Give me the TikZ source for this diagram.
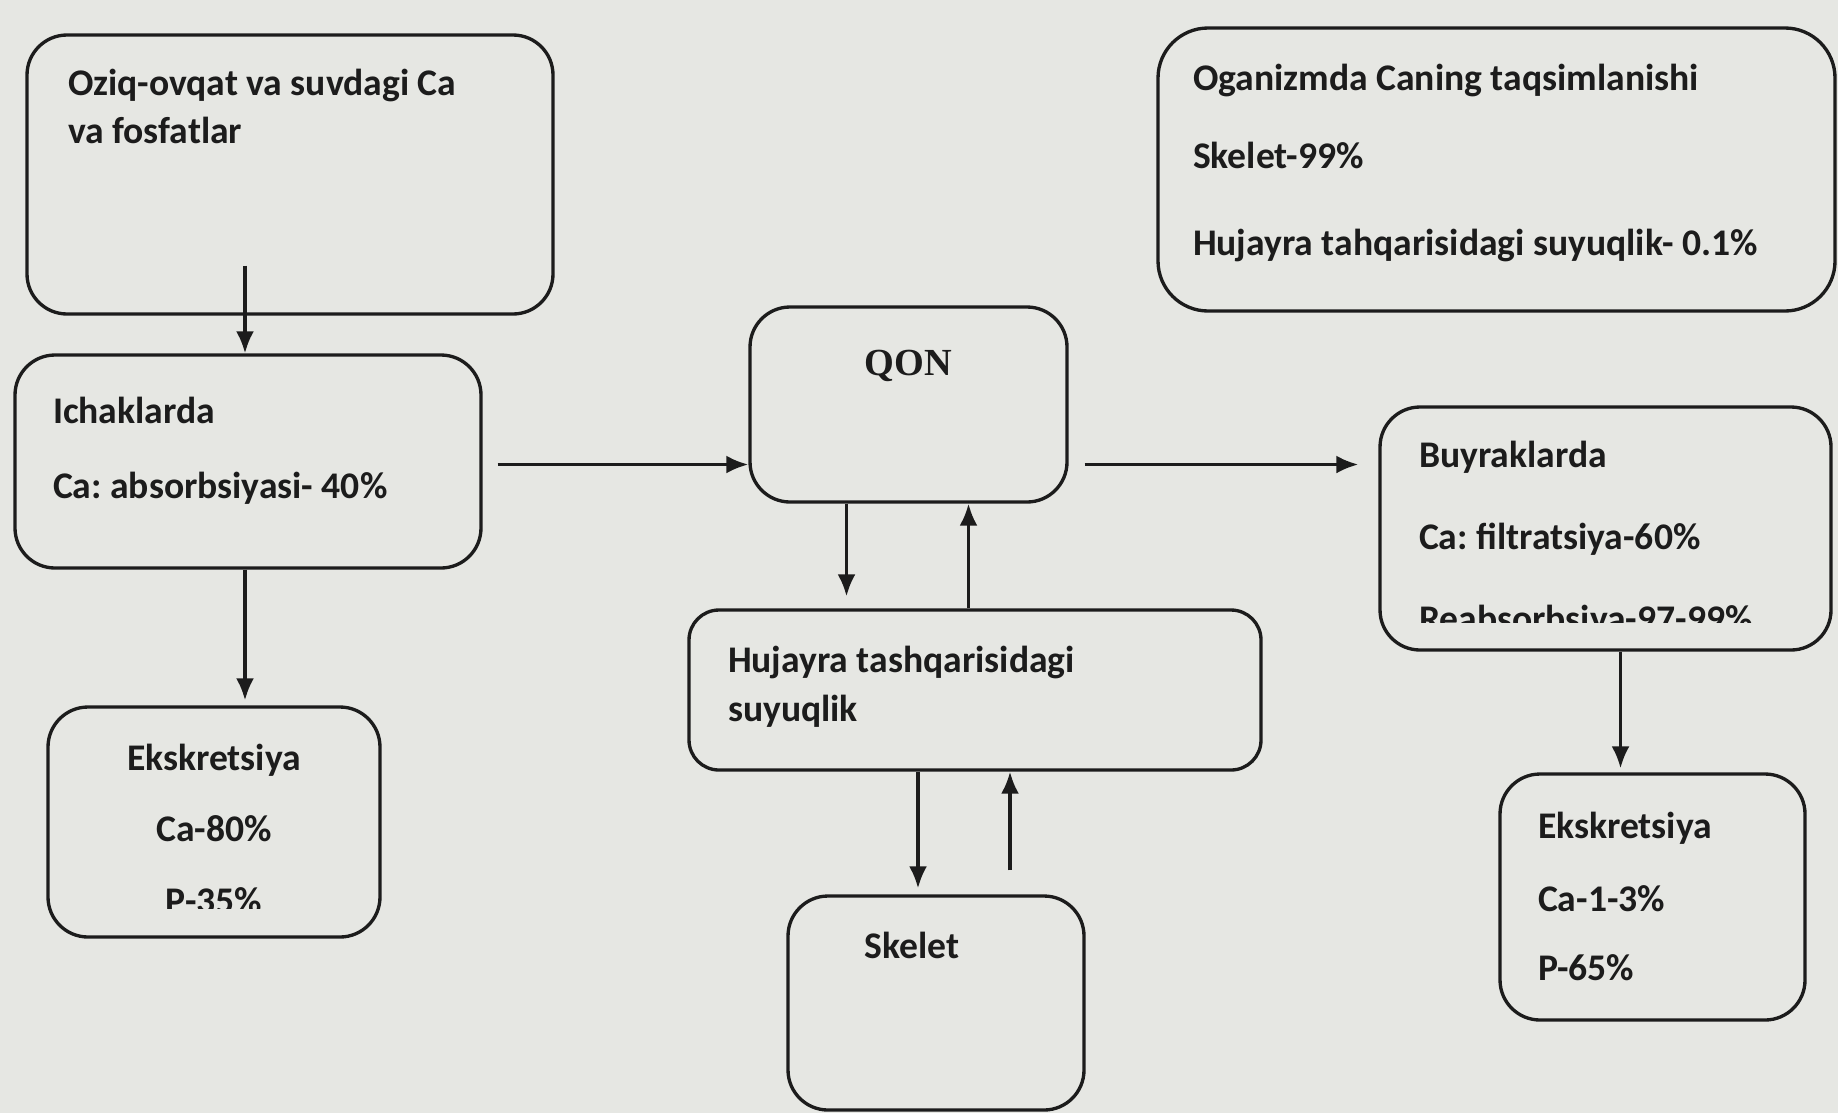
\documentclass[tikz,border=0pt]{standalone}
\usepackage{fontspec}
\setmainfont{Carlito}
\newfontfamily\qonfont{Liberation Serif}
\usepackage{tikz}
\usepackage{xcolor}
\usetikzlibrary{positioning,arrows.meta}

\definecolor{paper}{RGB}{230,231,227}
\definecolor{ink}{RGB}{28,28,28}
\frenchspacing

\begin{document}
\begin{tikzpicture}
[
x=0.1mm, y=-0.1mm,
box-a/.style={draw=ink, line width=0.95pt, rounded corners=4mm, inner sep=0pt},
text-a/.style={ink, font=\bfseries\fontsize{10.7}{13}\selectfont, inner sep=0pt},
text-b/.style={ink, font=\qonfont\bfseries\fontsize{10.9}{13}\selectfont, inner sep=0pt},
arrow-a/.style={draw=ink, line width=0.95pt, -{Latex[length=2.2mm,width=1.8mm]}}
]
\fill[paper] (0,0) rectangle (1838,1113);
\useasboundingbox (0,0) rectangle (1838,1113);

% boxes
\node (food)    [box-a, minimum width=52.6mm, minimum height=27.9mm] at (290,174.5)  {};
\node (gut)     [box-a, minimum width=46.6mm, minimum height=21.3mm] at (248,461.5)  {};
\node (excr-l)  [box-a, minimum width=33.2mm, minimum height=23.0mm] at (214,822)    {};
\node (blood)   [box-a, minimum width=31.7mm, minimum height=19.5mm] at (908.5,404.5){};
\node (fluid)   [box-a, minimum width=57.2mm, minimum height=16.0mm, rounded corners=3mm] at (975,690) {};
\node (skel)    [box-a, minimum width=29.6mm, minimum height=21.4mm] at (936,1003)   {};
\node (share)   [box-a, minimum width=67.7mm, minimum height=28.3mm, rounded corners=5mm] at (1496.5,169.5) {};
\node (kidney)  [box-a, minimum width=45.1mm, minimum height=24.3mm] at (1605.5,528.5){};
\node (excr-r)  [box-a, minimum width=30.5mm, minimum height=24.6mm] at (1652.5,897)  {};

% texts
\node (food-1)   [text-a, below right = 6.2mm and 4.2mm of food.north west, anchor=base west] {Oziq-ovqat va suvdagi Ca};
\node (food-2)   [text-a, below = 4.8mm of food-1.base west, anchor=base west] {va fosfatlar};
\node (gut-1)    [text-a, below right = 7.0mm and 3.9mm of gut.north west, anchor=base west] {Ichaklarda};
\node (gut-2)    [text-a, below = 7.5mm of gut-1.base west, anchor=base west] {Ca: absorbsiyasi- 40\%};
\node (excr-l-1) [text-a, below = 6.5mm of excr-l.north, anchor=base] {Ekskretsiya};
\node (excr-l-2) [text-a, below = 7.1mm of excr-l-1.base, anchor=base] {Ca-80\%};
\begin{scope}
\clip (excr-l.north west) rectangle ([yshift=3.0mm]excr-l.south east);
\node (excr-l-3) [text-a, below = 7.2mm of excr-l-2.base, anchor=base] {P-35\%};
\end{scope}
\node (blood-1)  [text-b, below = 7.0mm of blood.north, anchor=base] {QON};
\node (fluid-1)  [text-a, below right = 6.4mm and 4.0mm of fluid.north west, anchor=base west] {Hujayra tashqarisidagi};
\node (fluid-2)  [text-a, below = 4.9mm of fluid-1.base west, anchor=base west] {suyuqlik};
\node (skel-1)   [text-a, below = 6.4mm of skel.north, anchor=base, xshift=-2.4mm] {Skelet};
\node (share-1)  [text-a, below right = 6.4mm and 3.6mm of share.north west, anchor=base west] {Oganizmda Caning taqsimlanishi};
\node (share-2)  [text-a, below = 7.8mm of share-1.base west, anchor=base west] {Skelet-99\%};
\node (share-3)  [text-a, below = 8.7mm of share-2.base west, anchor=base west] {Hujayra tahqarisidagi suyuqlik- 0.1\%};
\node (kidney-1) [text-a, below right = 6.2mm and 4.0mm of kidney.north west, anchor=base west] {Buyraklarda};
\node (kidney-2) [text-a, below = 8.2mm of kidney-1.base west, anchor=base west] {Ca: filtratsiya-60\%};
\begin{scope}
\clip (kidney.north west) rectangle ([yshift=2.9mm]kidney.south east);
\node (kidney-3) [text-a, below = 8.2mm of kidney-2.base west, anchor=base west] {Reabsorbsiya-97-99\%};
\end{scope}
\node (excr-r-1) [text-a, below right = 6.6mm and 3.9mm of excr-r.north west, anchor=base west] {Ekskretsiya};
\node (excr-r-2) [text-a, below = 7.3mm of excr-r-1.base west, anchor=base west] {Ca-1-3\%};
\node (excr-r-3) [text-a, below = 6.9mm of excr-r-2.base west, anchor=base west] {P-65\%};

% arrows
\draw[arrow-a] ([xshift=-4.5mm,yshift=5mm]food.south) -- ([xshift=-4.5mm]food.south |- gut.north);
\draw[arrow-a] ([xshift=-0.3mm]gut.south) -- ([xshift=-0.3mm,yshift=0.5mm]gut.south |- excr-l.north);
\draw[arrow-a] ([xshift=1.5mm,yshift=-0.3mm]gut.east) -- ([yshift=-0.3mm]gut.east -| blood.west);
\draw[arrow-a] ([xshift=1.6mm,yshift=-6mm]blood.east) -- ([xshift=-2mm,yshift=-6mm]blood.east -| kidney.west);
\draw[arrow-a] ([xshift=-6.2mm]blood.south) -- ([xshift=-6.2mm,yshift=1.2mm]blood.south |- fluid.north);
\draw[arrow-a] ([xshift=6mm]blood.south |- fluid.north) -- ([xshift=6mm]blood.south);
\draw[arrow-a] ([xshift=-1.8mm]skel.north |- fluid.south) -- ([xshift=-1.8mm,yshift=0.6mm]skel.north);
\draw[arrow-a] ([xshift=7.4mm,yshift=2.4mm]skel.north) -- ([xshift=7.4mm]skel.north |- fluid.south);
\draw[arrow-a] ([xshift=1.5mm]kidney.south) -- ([xshift=1.5mm,yshift=0.4mm]kidney.south |- excr-r.north);
\end{tikzpicture}
\end{document}
